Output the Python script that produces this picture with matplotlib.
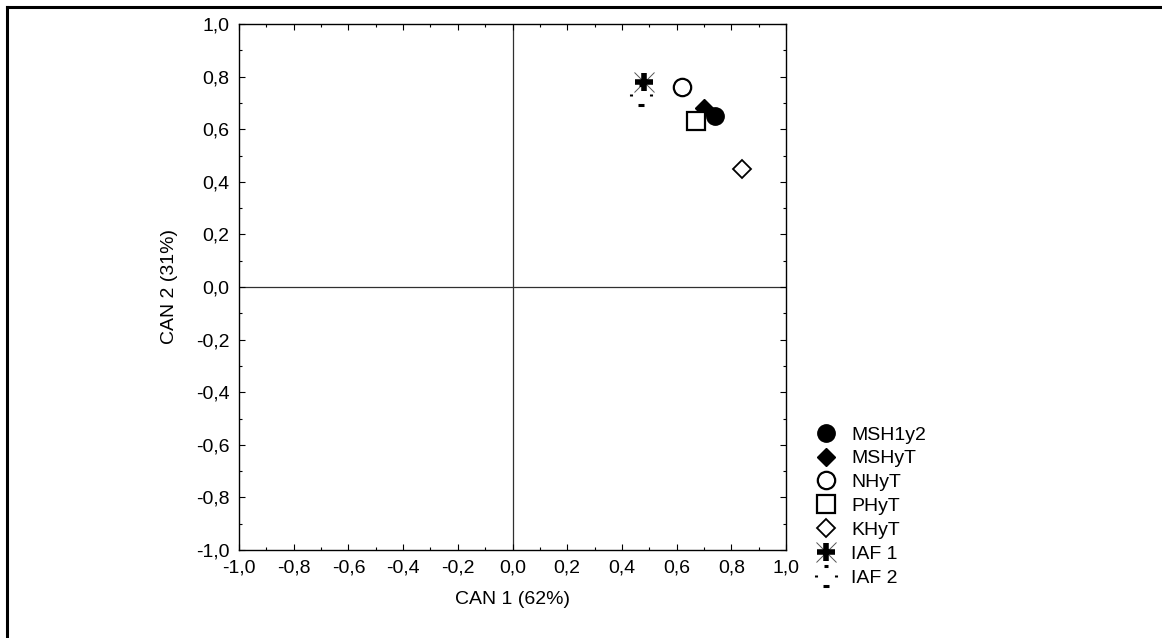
#!/usr/bin/env python3
"""Canonical discriminant plot: group centroids on CAN 1 / CAN 2."""
import matplotlib
matplotlib.use('Agg')
import matplotlib.pyplot as plt
from matplotlib.lines import Line2D
from matplotlib.path import Path
from matplotlib.legend_handler import HandlerTuple
from matplotlib.ticker import MultipleLocator, FuncFormatter

groups = ['MSH1y2', 'MSHyT', 'NHyT', 'PHyT', 'KHyT', 'IAF 1', 'IAF 2']
can1 = [0.74, 0.70, 0.62, 0.67, 0.84, 0.48, 0.47]
can2 = [0.65, 0.68, 0.76, 0.63, 0.45, 0.78, 0.73]
xlabel = 'CAN 1 (62%)'
ylabel = 'CAN 2 (31%)'

plt.rcParams['font.family'] = ['Liberation Sans', 'DejaVu Sans']
plt.rcParams['font.size'] = 14

# dashed circle for IAF 2: four short strokes at the cardinal points
dash_path = Path(
    [(-0.22, 1), (0.22, 1), (-0.3, -1), (0.3, -1),
     (-1, -0.15), (-1, 0.15), (1, -0.15), (1, 0.15)],
    [Path.MOVETO, Path.LINETO] * 4)

styles = {
    'MSH1y2': [dict(marker='o', ms=12.5, mfc='k', mec='k', mew=1)],
    'MSHyT': [dict(marker='D', ms=9.5, mfc='k', mec='k', mew=1)],
    'NHyT': [dict(marker='o', ms=12.5, mfc='w', mec='k', mew=1.6)],
    'PHyT': [dict(marker='s', ms=12.5, mfc='w', mec='k', mew=1.6)],
    'KHyT': [dict(marker='D', ms=9, mfc='w', mec='k', mew=1.3)],
    'IAF 1': [dict(marker='x', ms=14, mec='#555555', mew=0.7),
              dict(marker='+', ms=13, mec='k', mew=4)],
    'IAF 2': [dict(marker=dash_path, ms=14, mfc='none', mec='k', mew=2.2)],
}

fig = plt.figure(figsize=(11.62, 6.38), dpi=100)
ax = fig.add_axes([239/1162, 88/638, 547/1162, 526/638])

ax.axhline(0, color='#303030', lw=0.9, zorder=1)
ax.axvline(0, color='#303030', lw=0.9, zorder=1)

handles = []
for g, x, y in zip(groups, can1, can2):
    hs = []
    for st in styles[g]:
        ln, = ax.plot([x], [y], ls='none', zorder=3, **st)
        hs.append(ln)
    handles.append(tuple(hs) if len(hs) > 1 else hs[0])

ax.set_xlim(-1, 1)
ax.set_ylim(-1, 1)
for axis in (ax.xaxis, ax.yaxis):
    axis.set_major_locator(MultipleLocator(0.2))
    axis.set_minor_locator(MultipleLocator(0.1))
    axis.set_major_formatter(FuncFormatter(lambda v, p: f'{v:.1f}'.replace('.', ',').replace('-0,0', '0,0')))
ax.tick_params(which='both', direction='in', top=True, right=True, width=0.8)
ax.tick_params(which='major', length=4.3)
ax.tick_params(which='minor', length=2.2)
ax.tick_params(axis='x', pad=7)
ax.tick_params(axis='y', pad=7)
for s in ax.spines.values():
    s.set_linewidth(1.0)

ax.set_xlabel(xlabel, labelpad=10)
ax.set_ylabel(ylabel, labelpad=13)

fig.legend(handles, groups, loc='upper left',
           bbox_to_anchor=(816/1162, 1 - 426/638), frameon=False,
           borderpad=0, borderaxespad=0, handlelength=1.0, handletextpad=0.8,
           labelspacing=0.32, numpoints=1,
           handler_map={tuple: HandlerTuple(ndivide=1, pad=0)})

# outer frame (only top and left edges fall inside the image)
fig.add_artist(Line2D([6.5/1162, 6.5/1162], [-0.1, 1 - 6.5/638], color='k', lw=2.2, transform=fig.transFigure))
fig.add_artist(Line2D([6.5/1162, 1.1], [1 - 6.5/638, 1 - 6.5/638], color='k', lw=2.2, transform=fig.transFigure))

fig.savefig('out.png', dpi=100)
